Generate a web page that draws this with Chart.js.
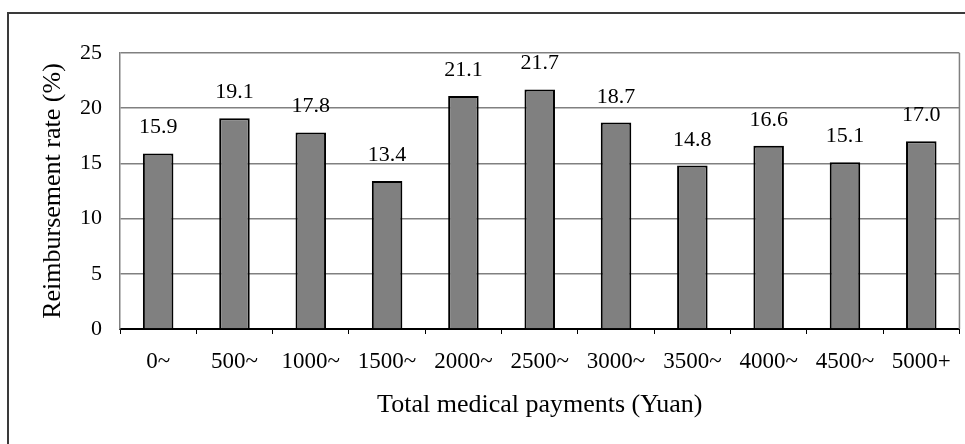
<!DOCTYPE html>
<html>
<head>
<meta charset="utf-8">
<script src="https://cdn.jsdelivr.net/npm/chart.js@4/dist/chart.umd.min.js"></script>
<style>
  body { margin: 0; background: #fff; overflow: hidden; }
  #frame { position: absolute; left: 7px; top: 12px; width: 1100px; height: 600px; border: 2px solid #3a3a3a; }
  #wrap { position: absolute; left: 0; top: 0; width: 965px; height: 444px; }
</style>
</head>
<body>
<div id="frame"></div>
<div id="wrap"><canvas id="canvas"></canvas></div>
<script>
const categories = ["0~", "500~", "1000~", "1500~", "2000~", "2500~", "3000~", "3500~", "4000~", "4500~", "5000+"];
const rates = [15.9, 19.1, 17.8, 13.4, 21.1, 21.7, 18.7, 14.8, 16.6, 15.1, 17.0];
const yTicks = [0, 5, 10, 15, 20, 25];

const serif = "'Liberation Serif', 'Times New Roman', serif";

const valueLabels = {
  id: "valueLabels",
  afterDatasetsDraw(chart) {
    const ctx = chart.ctx;
    const meta = chart.getDatasetMeta(0);
    ctx.save();
    ctx.font = "22px " + serif;
    ctx.fillStyle = "#000";
    ctx.textAlign = "center";
    ctx.textBaseline = "alphabetic";
    meta.data.forEach((bar, i) => {
      ctx.fillText(rates[i].toFixed(1), bar.x, bar.y - 20);
    });
    ctx.restore();
  }
};

const plotBorder = {
  id: "plotBorder",
  beforeDatasetsDraw(chart) {
    const { ctx, chartArea } = chart;
    ctx.save();
    ctx.strokeStyle = "#808080";
    ctx.lineWidth = 1.5;
    ctx.beginPath();
    ctx.moveTo(chartArea.right, chartArea.top);
    ctx.lineTo(chartArea.right, chartArea.bottom);
    ctx.stroke();
    ctx.restore();
  }
};

const canvas = document.getElementById("canvas").getContext("2d");

const plot = new Chart(canvas, {
  type: "bar",
  data: {
    labels: categories,
    datasets: [
      {
        data: rates,
        backgroundColor: "#808080",
        borderColor: "#000",
        borderWidth: 2,
        barPercentage: 0.4,
        categoryPercentage: 1
      }
    ]
  },
  options: {
    responsive: true,
    maintainAspectRatio: false,
    animation: false,
    layout: { padding: { left: 0, top: 53, right: 5, bottom: 0 } },
    plugins: {
      legend: { display: false },
      tooltip: { enabled: false }
    },
    scales: {
      x: {
        offset: true,
        afterFit: (scale) => { scale.height = 115; },
        grid: { drawOnChartArea: false, tickLength: 5, color: "#000", lineWidth: 1, offset: true },
        border: { color: "#000", width: 2 },
        ticks: { color: "#000", font: { family: serif, size: 23 }, padding: 14, maxRotation: 0 },
        title: {
          display: true,
          text: "Total medical payments (Yuan)",
          color: "#000",
          font: { family: serif, size: 26 },
          padding: { top: 0, bottom: 23 }
        }
      },
      y: {
        min: 0,
        max: 25,
        afterFit: (scale) => { scale.width = 120; },
        afterBuildTicks: (scale) => { scale.ticks = yTicks.map(v => ({ value: v })); },
        grid: { color: "#808080", lineWidth: 1.5, drawTicks: false },
        border: { color: "#808080", width: 1.5 },
        ticks: { color: "#000", font: { family: serif, size: 22 }, padding: 18 },
        title: {
          display: true,
          text: "Reimbursement rate (%)",
          color: "#000",
          font: { family: serif, size: 26 },
          padding: { top: 38, bottom: 0 }
        }
      }
    }
  },
  plugins: [valueLabels, plotBorder]
});
</script>
</body>
</html>
